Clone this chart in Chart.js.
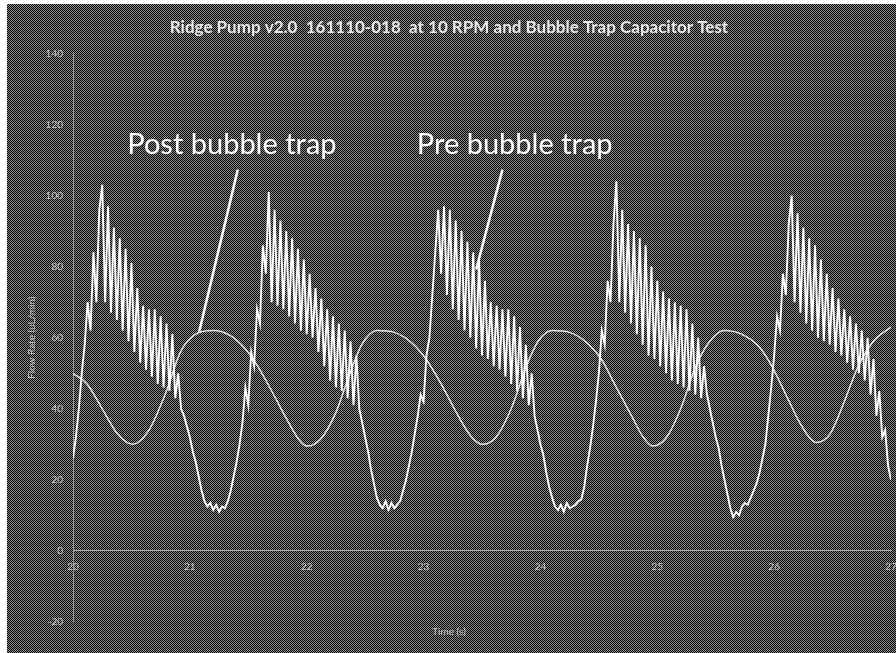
<!DOCTYPE html>
<html lang="en">
<head>
<meta charset="UTF-8">
<title>Ridge Pump v2.0 bubble trap test</title>
<script src="https://cdn.jsdelivr.net/npm/chart.js"></script>
<style>
    html, body { margin: 0; padding: 0; background: #fff; }
    .chart-box { position: absolute; left: 7px; top: 4px; width: 889px; height: 649px; }
</style>
</head>
<body>
<div class="chart-box"><canvas id="flowChart"></canvas></div>
<script>
// axes
const timeTicks = [20, 21, 22, 23, 24, 25, 26, 27];
const flowTicks = [-20, 0, 20, 40, 60, 80, 100, 120, 140];

// pre bubble trap (uL/min), sampled every 0.025 s starting at 20 s
const preStart = 20;
const preStep = 0.025;
const preFlow = [
    26, 32, 40, 50, 58, 70, 62, 84, 70, 96, 103,
    70, 97, 67, 91, 65, 88, 62, 85, 59, 81, 56, 74, 53, 69, 51, 68, 49, 68, 47, 66, 46, 64, 45, 61, 43, 50,
    40, 38, 35, 32, 28, 25, 21, 17, 14, 12.5, 13.5, 11.5, 13, 11, 12.5, 12, 14, 17, 21, 25, 30, 36, 46, 41,
    56, 52, 68, 64, 86, 78, 101,
    70, 96, 69, 93, 68, 90, 66, 88, 64, 85, 62, 82, 61, 78, 60, 74, 56, 71, 52, 68, 48, 66, 46, 64, 45, 62, 43, 59, 41, 55, 40,
    36, 32, 28, 23, 19, 15, 13, 12, 14, 11.5, 13.5, 12, 13, 14, 17, 20, 24, 28, 33, 38, 44, 42,
    55, 60, 72, 84, 96, 78,
    97, 72, 96, 68, 93, 65, 90, 62, 87, 60, 84, 57, 82, 55, 76, 54, 70, 52, 69, 51, 68, 49, 68, 47, 66, 45, 63, 43, 58, 41, 50, 38,
    34, 30, 27, 22, 18, 15, 12.5, 11.5, 13, 11, 13.5, 12, 12.5, 13, 14, 14.5, 18, 24, 29, 35, 42, 50,
    62, 58, 76, 70, 92, 104,
    70, 96, 67, 92, 64, 90, 61, 88, 58, 86, 55, 80, 54, 76, 52, 73, 50, 71, 48, 70, 47, 69, 46, 68, 45, 64, 44, 60, 43, 52, 44,
    40, 36, 32, 29, 24, 20, 16, 12, 9.5, 11, 10, 12.5, 13.5, 13, 15, 17, 19, 22, 26, 30, 38, 46, 55,
    66, 62, 78, 72, 92, 100,
    70, 95, 67, 91, 64, 88, 62, 86, 60, 82, 59, 78, 58, 74, 56, 71, 55, 68, 53, 66, 51, 64, 50, 62, 48, 60, 44, 54, 38, 45, 32, 34, 24, 20
];

// post bubble trap (uL/min)
const postTime = [
    20.00, 20.12, 20.25, 20.38, 20.51, 20.65, 20.80, 20.92, 21.05, 21.20, 21.35, 21.47, 21.58, 21.70, 21.83, 21.93,
    22.00, 22.12, 22.25, 22.37, 22.47, 22.60, 22.75, 22.90, 23.02, 23.15, 23.28, 23.40,
    23.50, 23.62, 23.75, 23.88, 23.98, 24.10, 24.25, 24.40, 24.52, 24.65, 24.78, 24.88,
    24.96, 25.08, 25.20, 25.33, 25.45, 25.57, 25.72, 25.87, 25.98, 26.10, 26.22, 26.30,
    26.36, 26.48, 26.60, 26.72, 26.85, 27.00
];
const postFlow = [
    50, 47, 40, 33, 30, 34, 45, 56, 61, 62, 60.5, 57, 52, 45, 37, 31.5,
    29.5, 31.5, 39, 50, 58, 62, 61.5, 58.5, 54, 47, 39, 32.5,
    30, 32, 40, 52, 59, 62, 61.5, 58.5, 54, 46, 38, 32,
    29.5, 32, 40, 52, 59, 62, 61, 57.5, 52, 44, 36, 32,
    30.5, 33, 42, 52, 59, 63
];

const preData = preFlow.map((v, i) => ({ x: preStart + i * preStep, y: v }));
const postData = postTime.map((t, i) => ({ x: t, y: postFlow[i] }));

// dithered dark background like the scanned figure
const tile = document.createElement('canvas');
tile.width = 2;
tile.height = 2;
const tctx = tile.getContext('2d');
tctx.fillStyle = '#000';
tctx.fillRect(0, 0, 2, 2);
tctx.fillStyle = '#8c8c8c';
tctx.fillRect(0, 0, 1, 1);
tctx.fillRect(1, 1, 1, 1);

const backdrop = {
    id: 'backdrop',
    beforeDraw(chart) {
        const ctx = chart.ctx;
        ctx.save();
        ctx.fillStyle = ctx.createPattern(tile, 'repeat');
        ctx.fillRect(0, 0, chart.width, chart.height);
        ctx.restore();
    }
};

// callout labels with pointer lines (in data units)
const callouts = [
    { text: 'Post bubble trap', at: [21.36, 114.4], from: [21.41, 107.3], to: [21.08, 61.7] },
    { text: 'Pre bubble trap', at: [23.78, 114.4], from: [23.675, 107.3], to: [23.45, 79.2] }
];

const calloutPlugin = {
    id: 'callouts',
    afterDatasetsDraw(chart) {
        const { ctx, scales: { x, y } } = chart;
        ctx.save();
        ctx.fillStyle = '#fff';
        ctx.strokeStyle = '#fff';
        ctx.lineWidth = 2.5;
        ctx.font = '29px Lato';
        ctx.textAlign = 'center';
        ctx.textBaseline = 'middle';
        callouts.forEach(c => {
            ctx.fillText(c.text, x.getPixelForValue(c.at[0]), y.getPixelForValue(c.at[1]));
            ctx.beginPath();
            ctx.moveTo(x.getPixelForValue(c.from[0]), y.getPixelForValue(c.from[1]));
            ctx.lineTo(x.getPixelForValue(c.to[0]), y.getPixelForValue(c.to[1]));
            ctx.stroke();
        });
        ctx.restore();
    }
};

Chart.defaults.font.family = 'Lato';
Chart.defaults.color = '#c8c8c8';

new Chart(document.getElementById('flowChart'), {
    type: 'line',
    data: {
        datasets: [{
            label: 'Pre bubble trap',
            data: preData,
            borderColor: '#ffffff',
            borderWidth: 1.9,
            pointRadius: 0,
            tension: 0
        }, {
            label: 'Post bubble trap',
            data: postData,
            borderColor: '#e6e6e6',
            borderWidth: 1.5,
            pointRadius: 0,
            cubicInterpolationMode: 'monotone'
        }]
    },
    options: {
        responsive: true,
        maintainAspectRatio: false,
        animation: false,
        layout: { padding: { left: 0, right: 5, top: 0, bottom: 0 } },
        plugins: {
            legend: { display: false },
            tooltip: { enabled: false },
            title: {
                display: true,
                text: 'Ridge Pump v2.0  161110-018  at 10 RPM and Bubble Trap Capacitor Test',
                color: '#e8e8e8',
                font: { size: 17, weight: 'bold' },
                padding: { top: 13, bottom: 16 }
            },
            subtitle: {
                display: true,
                position: 'bottom',
                text: 'Time (s)',
                color: '#c8c8c8',
                font: { size: 10 },
                padding: { top: 4, bottom: 15 }
            }
        },
        scales: {
            x: {
                type: 'linear',
                position: { y: 0 },
                min: timeTicks[0],
                max: timeTicks[timeTicks.length - 1],
                ticks: { stepSize: 1, padding: 10, font: { size: 10 } },
                grid: { display: false, drawTicks: false },
                border: { display: true, color: '#b0b0b0', dash: [2, 2], width: 1 },
                afterFit(scale) {
                    scale.paddingLeft = 0;
                    scale.paddingRight = 0;
                }
            },
            y: {
                min: flowTicks[0],
                max: flowTicks[flowTicks.length - 1],
                ticks: { stepSize: 20, padding: 10, font: { size: 10 } },
                grid: { display: false, drawTicks: false },
                border: { display: true, color: '#9a9a9a', width: 1 },
                title: {
                    display: true,
                    text: 'Flow Rate (uL/min)',
                    color: '#c8c8c8',
                    font: { size: 10 },
                    padding: { top: 19, bottom: 0 }
                },
                afterFit(scale) { scale.width = 66; }
            }
        }
    },
    plugins: [backdrop, calloutPlugin]
});
</script>
</body>
</html>
